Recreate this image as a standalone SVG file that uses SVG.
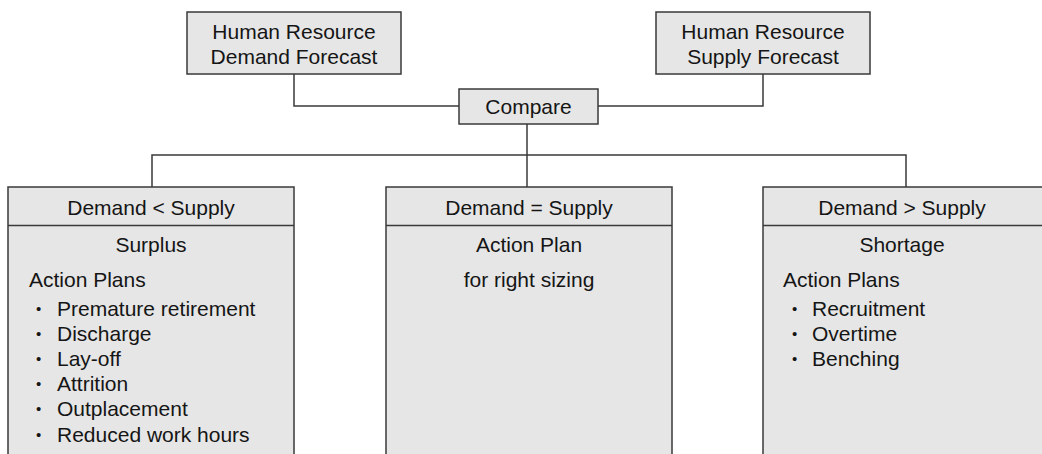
<svg xmlns="http://www.w3.org/2000/svg" width="1042" height="454" viewBox="0 0 1042 454">
<style>
.box{fill:#e6e6e6;stroke:#3a3a3a;stroke-width:1.5}
.ln{fill:none;stroke:#3a3a3a;stroke-width:1.5}
text{font-family:"Liberation Sans",Arial,sans-serif;font-size:21px;fill:#151515}
.c{text-anchor:middle}
.b{font-size:15px}
</style>
<rect width="1042" height="454" fill="#ffffff"/>
<g id="connectors">
<polyline class="ln" points="294,74 294,106 459,106"/>
<polyline class="ln" points="763,74 763,106 598,106"/>
<line class="ln" x1="527" y1="124" x2="527" y2="187"/>
<polyline class="ln" points="152,187 152,155 906,155 906,187"/>
</g>
<g id="demand-forecast">
<rect class="box" x="187" y="12" width="214" height="62"/>
<text class="c" x="294" y="39">Human Resource</text>
<text class="c" x="294" y="64">Demand Forecast</text>
</g>
<g id="supply-forecast">
<rect class="box" x="656" y="12" width="214" height="62"/>
<text class="c" x="763" y="39">Human Resource</text>
<text class="c" x="763" y="64">Supply Forecast</text>
</g>
<g id="compare">
<rect class="box" x="459" y="89" width="139" height="35"/>
<text class="c" x="528.5" y="114">Compare</text>
</g>
<g id="surplus">
<rect class="box" x="8" y="187" width="286" height="290"/>
<line class="ln" x1="8" y1="225.5" x2="294" y2="225.5"/>
<text class="c" x="151" y="215">Demand &lt; Supply</text>
<text class="c" x="151" y="252">Surplus</text>
<text x="29" y="287">Action Plans</text>
<text class="b" x="36" y="314">•</text><text x="57" y="316">Premature retirement</text>
<text class="b" x="36" y="339">•</text><text x="57" y="341">Discharge</text>
<text class="b" x="36" y="364">•</text><text x="57" y="366">Lay-off</text>
<text class="b" x="36" y="389">•</text><text x="57" y="391">Attrition</text>
<text class="b" x="36" y="414">•</text><text x="57" y="416">Outplacement</text>
<text class="b" x="36" y="440">•</text><text x="57" y="442">Reduced work hours</text>
</g>
<g id="right-sizing">
<rect class="box" x="386" y="187" width="286" height="290"/>
<line class="ln" x1="386" y1="225.5" x2="672" y2="225.5"/>
<text class="c" x="529" y="215">Demand = Supply</text>
<text class="c" x="529" y="252">Action Plan</text>
<text class="c" x="529" y="287">for right sizing</text>
</g>
<g id="shortage">
<rect class="box" x="763" y="187" width="300" height="290"/>
<line class="ln" x1="763" y1="225.5" x2="1063" y2="225.5"/>
<text class="c" x="902" y="215">Demand &gt; Supply</text>
<text class="c" x="902" y="252">Shortage</text>
<text x="783" y="287">Action Plans</text>
<text class="b" x="792" y="314">•</text><text x="812" y="316">Recruitment</text>
<text class="b" x="792" y="339">•</text><text x="812" y="341">Overtime</text>
<text class="b" x="792" y="364">•</text><text x="812" y="366">Benching</text>
</g>
</svg>
